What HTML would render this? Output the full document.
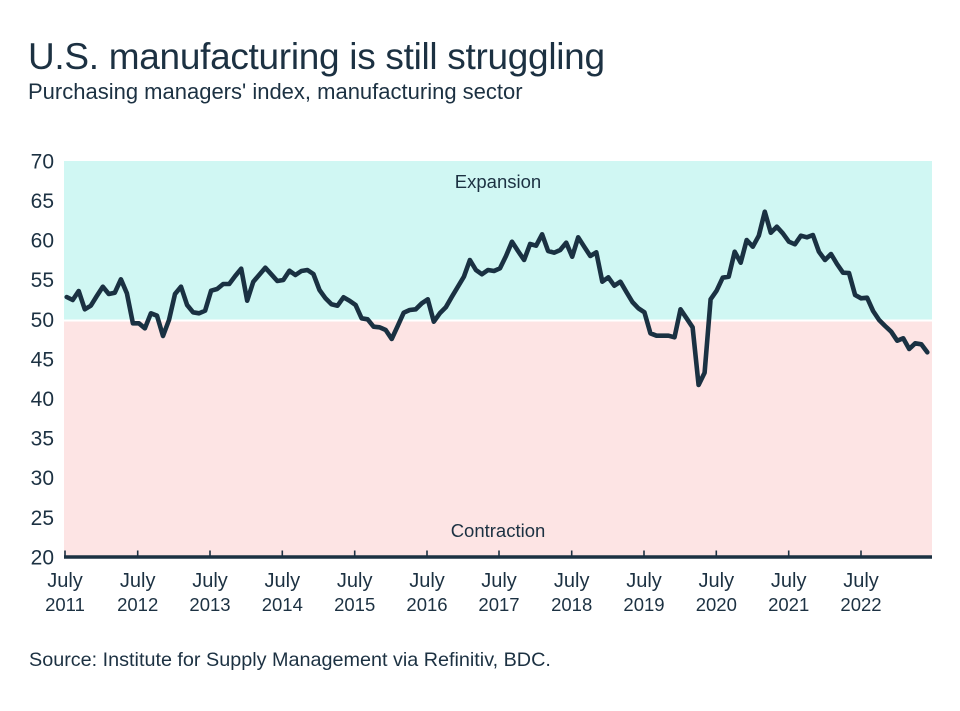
<!DOCTYPE html>
<html>
<head>
<meta charset="utf-8">
<style>
  html,body{margin:0;padding:0;background:#ffffff;}
  svg{display:block;}
  text{font-family:"Liberation Sans",Arial,sans-serif;fill:#1c3142;}
</style>
</head>
<body>
<svg width="960" height="711" viewBox="0 0 960 711" xmlns="http://www.w3.org/2000/svg">
  <rect x="0" y="0" width="960" height="711" fill="#ffffff"/>
  <!-- titles -->
  <text x="28" y="69" font-size="37" letter-spacing="-0.3">U.S. manufacturing is still struggling</text>
  <text x="28" y="99" font-size="22">Purchasing managers' index, manufacturing sector</text>

  <!-- background bands -->
  <rect x="64" y="161" width="868" height="158.5" fill="#d0f7f3"/>
  <rect x="64" y="321.5" width="868" height="235" fill="#fde4e4"/>

  <text x="498" y="188" font-size="18.5" text-anchor="middle">Expansion</text>
  <text x="498" y="537" font-size="18.5" text-anchor="middle">Contraction</text>

  <!-- y labels -->
  <g font-size="21" text-anchor="end">
    <text x="54" y="168.5">70</text>
    <text x="54" y="208">65</text>
    <text x="54" y="247.6">60</text>
    <text x="54" y="287.2">55</text>
    <text x="54" y="326.8">50</text>
    <text x="54" y="366.4">45</text>
    <text x="54" y="406">40</text>
    <text x="54" y="445.6">35</text>
    <text x="54" y="485.2">30</text>
    <text x="54" y="524.8">25</text>
    <text x="54" y="564.4">20</text>
  </g>

  <!-- axis -->
  <line x1="64" y1="557" x2="932" y2="557" stroke="#1b3142" stroke-width="3.5"/>
  <g stroke="#1b3142" stroke-width="1.6">
    <line x1="65" y1="550.5" x2="65" y2="557"/>
    <line x1="137.7" y1="550.5" x2="137.7" y2="557"/>
    <line x1="210" y1="550.5" x2="210" y2="557"/>
    <line x1="282.3" y1="550.5" x2="282.3" y2="557"/>
    <line x1="354.7" y1="550.5" x2="354.7" y2="557"/>
    <line x1="427" y1="550.5" x2="427" y2="557"/>
    <line x1="499" y1="550.5" x2="499" y2="557"/>
    <line x1="571.7" y1="550.5" x2="571.7" y2="557"/>
    <line x1="644" y1="550.5" x2="644" y2="557"/>
    <line x1="716.3" y1="550.5" x2="716.3" y2="557"/>
    <line x1="788.7" y1="550.5" x2="788.7" y2="557"/>
    <line x1="861" y1="550.5" x2="861" y2="557"/>
  </g>

  <!-- x labels -->
  <g font-size="20" text-anchor="middle">
    <text x="65" y="587">July</text><text x="65" y="611" font-size="18.5">2011</text>
    <text x="137.7" y="587">July</text><text x="137.7" y="611" font-size="18.5">2012</text>
    <text x="210" y="587">July</text><text x="210" y="611" font-size="18.5">2013</text>
    <text x="282.3" y="587">July</text><text x="282.3" y="611" font-size="18.5">2014</text>
    <text x="354.7" y="587">July</text><text x="354.7" y="611" font-size="18.5">2015</text>
    <text x="427" y="587">July</text><text x="427" y="611" font-size="18.5">2016</text>
    <text x="499" y="587">July</text><text x="499" y="611" font-size="18.5">2017</text>
    <text x="571.7" y="587">July</text><text x="571.7" y="611" font-size="18.5">2018</text>
    <text x="644" y="587">July</text><text x="644" y="611" font-size="18.5">2019</text>
    <text x="716.3" y="587">July</text><text x="716.3" y="611" font-size="18.5">2020</text>
    <text x="788.7" y="587">July</text><text x="788.7" y="611" font-size="18.5">2021</text>
    <text x="861" y="587">July</text><text x="861" y="611" font-size="18.5">2022</text>
  </g>

  <!-- data line -->
  <polyline fill="none" stroke="#1a3142" stroke-width="4.6" stroke-linejoin="round" stroke-linecap="round" points="
66.7,297 72.7,300 78.7,291 84.8,309.3 90.8,305.7 96.8,296 102.8,286.7 108.8,294 114.8,292.7 120.9,279.3
126.9,293.3 132.9,323.3 138.9,323.3 144.9,328.3 150.9,313.3 157.0,315.7 163.0,336 169.0,320 175.0,294 181.0,286.7
187.1,305 193.1,312.3 199.1,313.3 205.1,310.7 211.1,290.7 217.1,289 223.2,284 229.2,284 235.2,276 241.2,268.7
247.2,300.7 253.3,281.7 259.3,274.7 265.3,267.7 271.3,274.3 277.3,281 283.3,280 289.4,270.7 295.4,275 301.4,271
307.4,270 313.4,274 319.5,290 325.5,298.3 331.5,304.3 337.5,305.7 343.5,297.3 349.5,300.7 355.6,305 361.6,318.3
367.6,319.3 373.6,326.7 379.6,327.3 385.7,330 391.7,339 397.7,326 403.7,312.7 409.7,310 415.7,309.3 421.8,303.3
427.8,299.3 433.8,321.7 439.8,313.3 445.8,307.3 451.9,296.7 457.9,286.7 463.9,276.7 469.9,260 475.9,270 481.9,274.3
488.0,270 494.0,271 500.0,268.3 506.0,256 512.0,241.7 518.0,251 524.1,260 530.1,244 536.1,245.7 542.1,234.3
548.1,251 554.2,252.7 560.2,250 566.2,242.7 572.2,256.7 578.2,237.3 584.2,246.7 590.3,256 596.3,252.3 602.3,281.7
608.3,277.3 614.3,285.7 620.4,281.7 626.4,292 632.4,302 638.4,308.3 644.4,312.3 650.4,333.3 656.5,335.7 662.5,335.7
668.5,335.7 674.5,337.3 680.5,309.3 686.6,318.3 692.6,327.3 698.6,385 704.6,372.7 710.6,299.3 716.6,290.7 722.7,277.7
728.7,276.7 734.7,251.7 740.7,262.7 746.7,240 752.8,246.7 758.8,235.7 764.8,211.7 770.8,232.7 776.8,226.7 782.8,233.3
788.9,241.7 794.9,244.3 800.9,235.7 806.9,237.3 812.9,235 818.9,251.7 825.0,260 831.0,254 837.0,264 843.0,272.7
849.0,273 855.1,295 861.1,298.3 867.1,297.7 873.1,311 879.1,320 885.1,326 891.2,331.7 897.2,340.7 903.2,338.3
909.2,349 915.2,343.3 921.3,344.3 927.3,352.3"/>

  <!-- source -->
  <text x="29" y="666" font-size="19.8">Source: Institute for Supply Management via Refinitiv, BDC.</text>
</svg>
</body>
</html>
